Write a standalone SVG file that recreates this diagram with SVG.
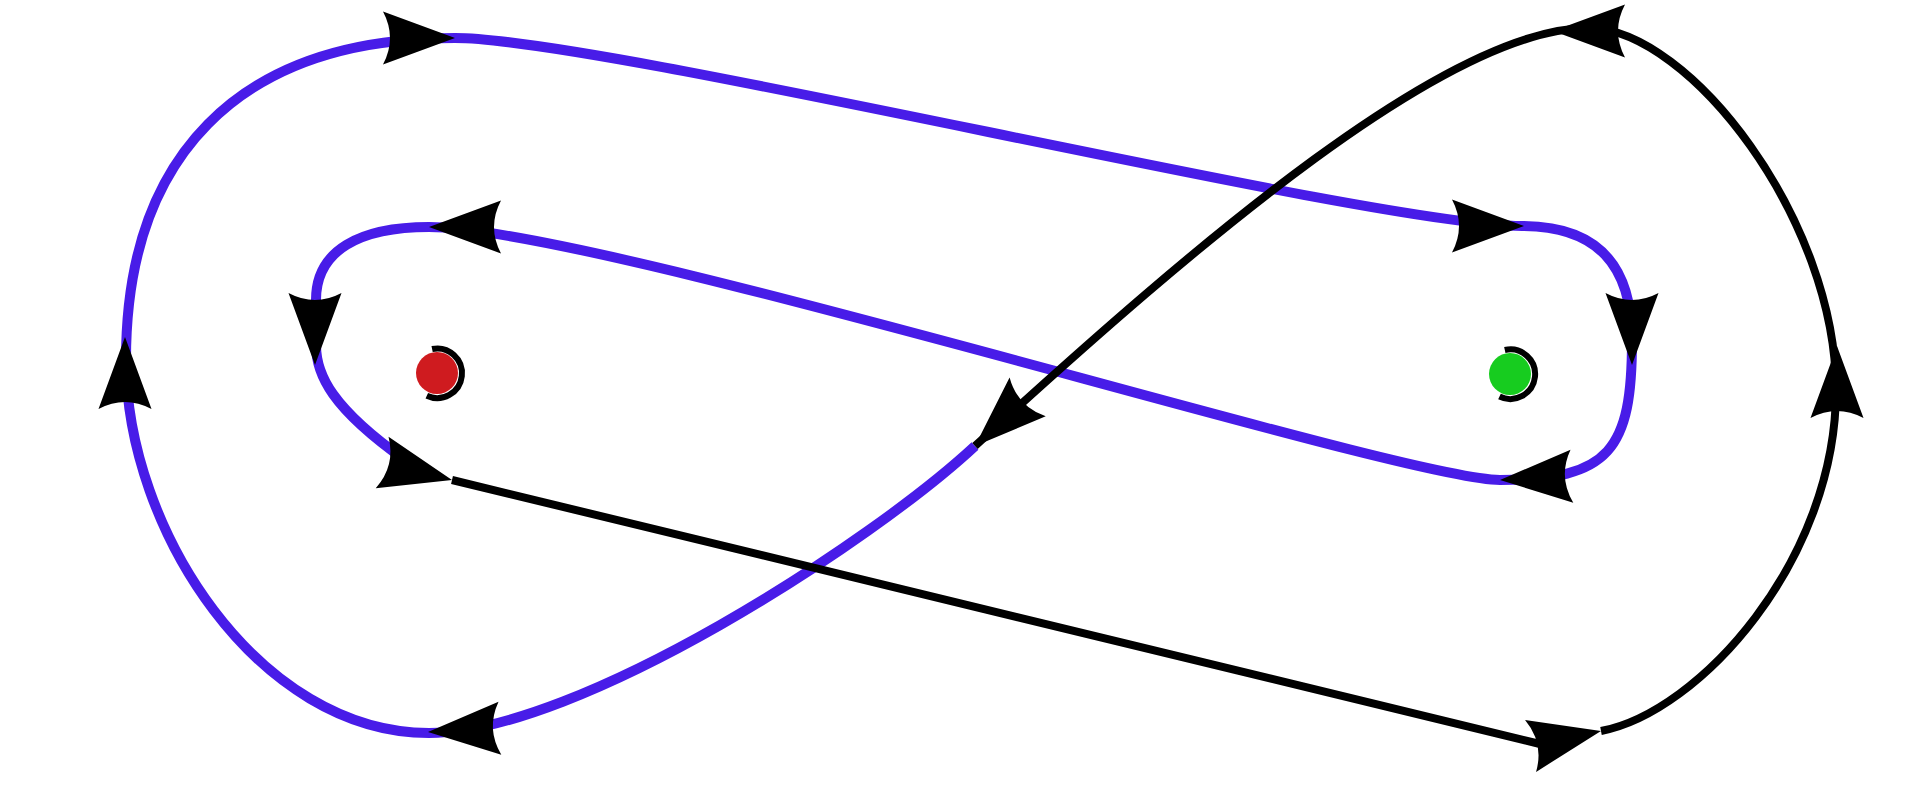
<svg xmlns="http://www.w3.org/2000/svg" width="1920" height="791" viewBox="0 0 1920 791">
<defs>
<path id="ah" d="M0,0 L-72,-26.5 Q-58,0 -72,26.5 Z" fill="#000"/>
</defs>
<style>
.blue{fill:none;stroke:#481ce8;stroke-width:10;}
.black{fill:none;stroke:#000;stroke-width:8;}
.ring{fill:none;stroke:#000;stroke-width:6;}
</style>
<rect width="1920" height="791" fill="#fff"/>
<g id="connectors">
<path class="blue" d="M975,446 C873,541 579,733 429,733 C259,733 126,530 126,360 C126,160 235,38 455,38 C605,38 1372,226 1522,226 C1597,226 1632,265 1632,340 C1632,450 1610,480 1500,480 C1400,480 599,227 429,227 C360,227 316,250 316,300 L316,345 C316,375 332,408 405,460"/>
<path class="black" d="M452,480 L1540,744 M1601,731 C1700,712 1836,560 1836,390 C1836,220 1690,30 1590,28 C1450,26 1200,240 975,446"/>
</g>
<g id="arrowheads">
<use href="#ah" transform="translate(455,38)"/>
<use href="#ah" transform="translate(1524,226)"/>
<use href="#ah" transform="translate(1632,365) rotate(90)"/>
<use href="#ah" transform="translate(1500,480) rotate(177)"/>
<use href="#ah" transform="translate(429,227) rotate(180)"/>
<use href="#ah" transform="translate(315,365) rotate(90)"/>
<use href="#ah" transform="translate(125,337) rotate(-90)"/>
<use href="#ah" transform="translate(428,732) rotate(177)"/>
<use href="#ah" transform="translate(452,480) rotate(14)"/>
<use href="#ah" transform="translate(1601,731) rotate(-12)"/>
<use href="#ah" transform="translate(1837,346) rotate(-90)"/>
<use href="#ah" transform="translate(1553,31) rotate(180)"/>
<use href="#ah" transform="translate(975,446) rotate(137)"/>
</g>
<g id="node-red">
<circle cx="437" cy="373" r="21" fill="#cf1b1f"/>
<path class="ring" d="M432.1,349 A24.8,24.8 0 1 1 426.8,395.8"/>
</g>
<g id="node-green">
<circle cx="1510" cy="374" r="21" fill="#17cc1f"/>
<path class="ring" d="M1504.8,350 A24.8,24.8 0 1 1 1499.5,396.5"/>
</g>
</svg>
